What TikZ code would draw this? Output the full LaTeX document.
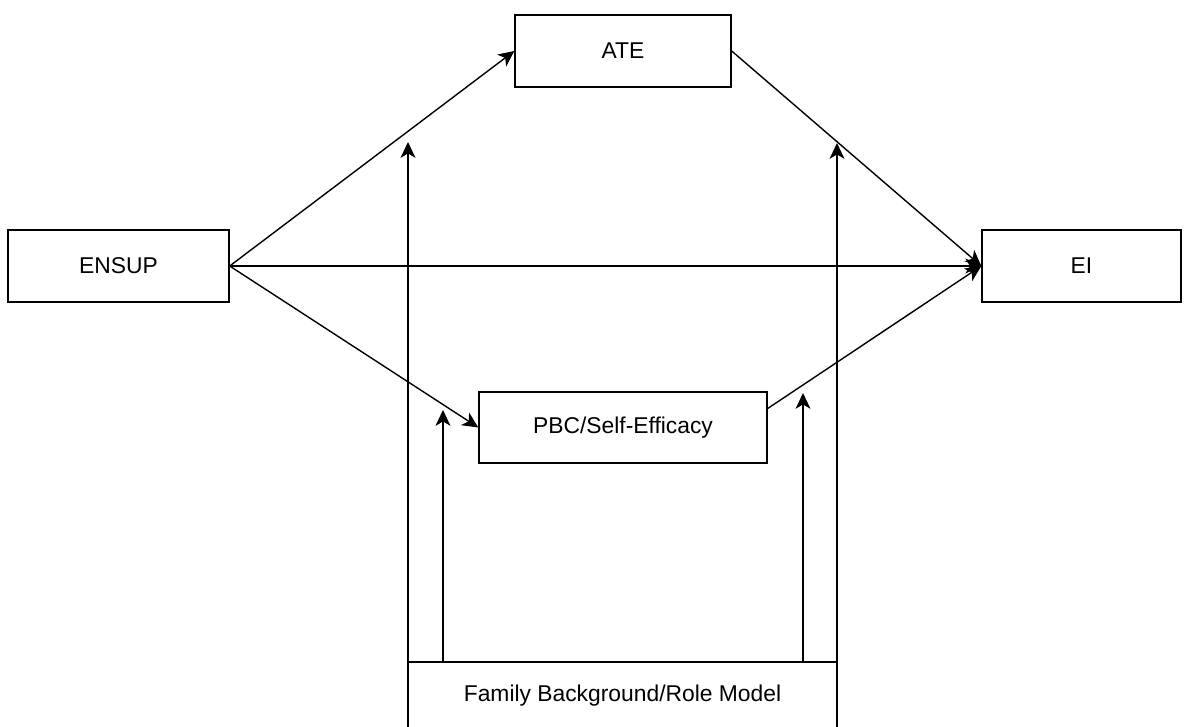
\documentclass[tikz,border=0pt]{standalone}
\usepackage{fontspec}
\setmainfont{Liberation Sans}
\usetikzlibrary{arrows.meta,calc}

\begin{document}
\begin{tikzpicture}[%
      x=0.02cm, y=-0.02cm,
      box/.style={draw, line width=0.8pt, inner sep=0pt, font=\fontsize{13}{15}\selectfont},
      link/.style={line width=0.8pt, -{Stealth[length=9pt,width=8.5pt,inset=2.5pt]}},
      ]
      \useasboundingbox (0,0) rectangle (1184,727);
      \clip (0,0) rectangle (1184,727);

      \node [box, minimum width=4.42cm, minimum height=1.44cm] (ensup) at (118.5,266) {ENSUP};
      \node [box, minimum width=4.32cm, minimum height=1.44cm] (ate) at (623,51) {ATE};
      \node [box, minimum width=3.98cm, minimum height=1.44cm] (ei) at (1081.5,266) {EI};
      \node [box, minimum width=5.76cm, minimum height=1.42cm] (pbc) at (623,427.5) {PBC/Self-Efficacy};
      \node [box, minimum width=8.58cm, minimum height=1.36cm] (fam) at (622.5,696) {Family Background/Role Model};

      \coordinate (modA) at (408,142);
      \coordinate (modB) at (443,410);
      \coordinate (modC) at (803,393);
      \coordinate (modD) at (837,143);

      \draw [link] (ensup.east) -- (ate.west);
      \draw [link] (ate.east) -- (ei.west);
      \draw [link] (ensup.east) -- (ei.west);
      \draw [link] (ensup.east) -- (pbc.west);
      \draw [link] ($(pbc.east)+(0,-19)$) -- (ei.west);

      \draw [link] (modA |- fam.south) -- (modA);
      \draw [link] (modB |- fam.north) -- (modB);
      \draw [link] (modC |- fam.north) -- (modC);
      \draw [link] (modD |- fam.north) -- (modD);
\end{tikzpicture}
\end{document}
